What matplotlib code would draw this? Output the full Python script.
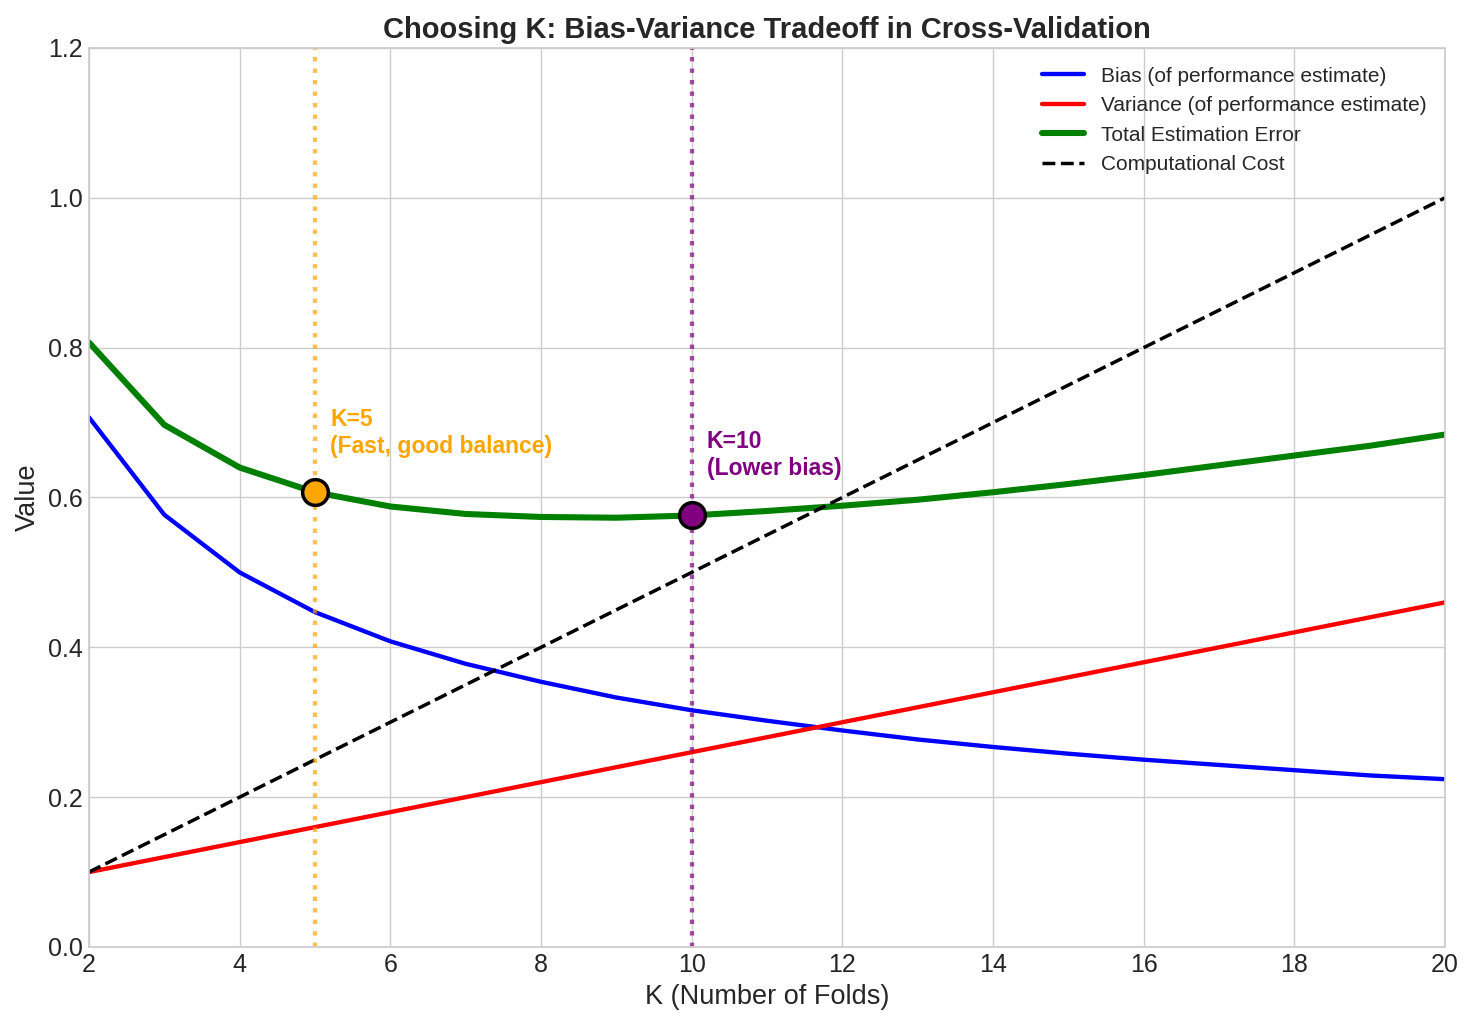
import matplotlib.pyplot as plt

# K values and curves
k_values = list(range(2, 21))
bias = [0.707, 0.577, 0.500, 0.447, 0.408, 0.378, 0.354, 0.333, 0.316, 0.302,
        0.289, 0.277, 0.267, 0.258, 0.250, 0.243, 0.236, 0.229, 0.224]
variance = [0.10, 0.12, 0.14, 0.16, 0.18, 0.20, 0.22, 0.24, 0.26, 0.28,
            0.30, 0.32, 0.34, 0.36, 0.38, 0.40, 0.42, 0.44, 0.46]
total_error = [0.807, 0.697, 0.640, 0.607, 0.588, 0.578, 0.574, 0.573, 0.576, 0.582,
               0.589, 0.597, 0.607, 0.618, 0.630, 0.643, 0.656, 0.669, 0.684]
cost = [0.10, 0.15, 0.20, 0.25, 0.30, 0.35, 0.40, 0.45, 0.50, 0.55,
        0.60, 0.65, 0.70, 0.75, 0.80, 0.85, 0.90, 0.95, 1.00]

# highlighted choices of K
highlight_k = [5, 10]
highlight_colors = ['orange', 'purple']
highlight_labels = ['K=5\n(Fast, good balance)', 'K=10\n(Lower bias)']
highlight_text_y = [0.66, 0.63]

plt.style.use('seaborn-v0_8-whitegrid')
plt.rcParams['font.family'] = ['Liberation Sans', 'DejaVu Sans']

fig = plt.figure(figsize=(11.8, 8.2), dpi=125)
ax = fig.add_axes([0.0603, 0.0761, 0.9194, 0.8771])

ax.plot(k_values, bias, color='blue', linewidth=2.5, label='Bias (of performance estimate)')
ax.plot(k_values, variance, color='red', linewidth=2.5, label='Variance (of performance estimate)')
ax.plot(k_values, total_error, color='green', linewidth=3.5, label='Total Estimation Error')
ax.plot(k_values, cost, color='black', linestyle='--', linewidth=2, label='Computational Cost')

for k, c, lab, ty in zip(highlight_k, highlight_colors, highlight_labels, highlight_text_y):
    ax.axvline(k, color=c, linestyle=':', linewidth=2.5, alpha=0.7)
    y = total_error[k_values.index(k)]
    ax.scatter([k], [y], s=220, color=c, edgecolor='black', linewidth=2, zorder=5)
    ax.text(k + 0.2, ty, lab, color=c, fontsize=13.2, fontweight='bold')

ax.set_xlim(2, 20)
ax.set_ylim(0, 1.2)
ax.set_xticks(range(2, 21, 2))
ax.tick_params(labelsize=14.4)
ax.set_xlabel('K (Number of Folds)', fontsize=15.6)
ax.set_ylabel('Value', fontsize=15.6)
ax.set_title('Choosing K: Bias-Variance Tradeoff in Cross-Validation', fontsize=16.8, fontweight='bold')
ax.legend(loc='upper right', fontsize=12)

fig.savefig('out.png', dpi=125)
